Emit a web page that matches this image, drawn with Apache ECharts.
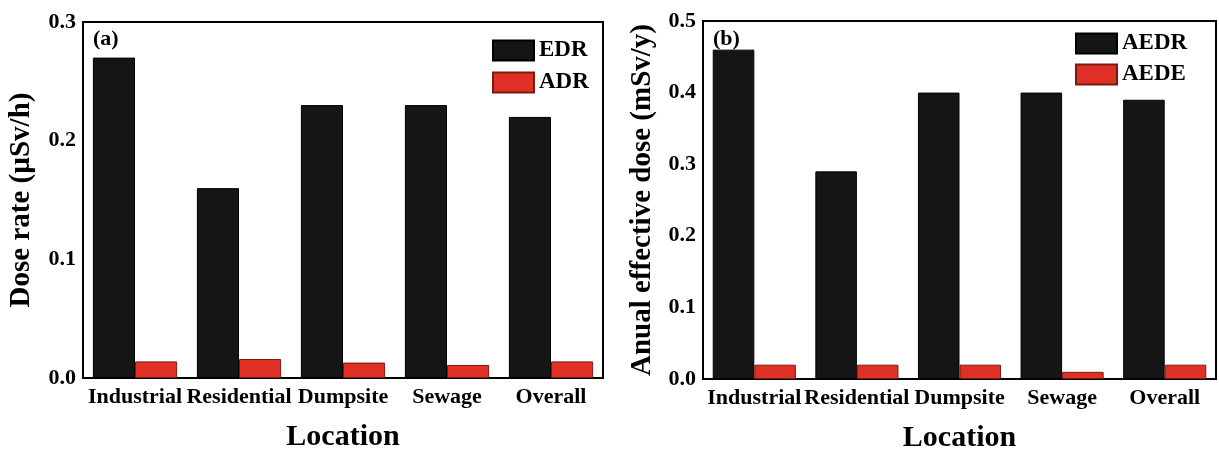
<!DOCTYPE html>
<html>
<head>
<meta charset="utf-8">
<script src="https://cdn.jsdelivr.net/npm/echarts@6/dist/echarts.min.js"></script>
<style>
html,body{margin:0;padding:0;background:#fff;}
#chart{width:1219px;height:453px;}
</style>
</head>
<body>
<div id="chart"></div>
<script>
const categories = ['Industrial', 'Residential', 'Dumpsite', 'Sewage', 'Overall'];
const edr  = [0.27, 0.16, 0.23, 0.23, 0.22];
const adr  = [0.014, 0.016, 0.013, 0.011, 0.014];
const aedr = [0.46, 0.29, 0.40, 0.40, 0.39];
const aede = [0.02, 0.02, 0.02, 0.01, 0.02];
const yTicksA = [0.0, 0.1, 0.2, 0.3];
const yTicksB = [0.0, 0.1, 0.2, 0.3, 0.4, 0.5];

const FONT = 'Liberation Serif';
const BLACK = '#151515';
const RED = '#de3024';

function xAxis(gi) {
  return {
    type: 'category', gridIndex: gi, data: categories,
    name: 'Location', nameLocation: 'middle', nameGap: 44,
    nameTextStyle: {fontFamily: FONT, fontWeight: 'bold', fontSize: 30, color: '#000'},
    axisLine: {lineStyle: {color: '#000', width: 2}},
    axisTick: {show: false},
    axisLabel: {fontFamily: FONT, fontWeight: 'bold', fontSize: 22, color: '#000', margin: 8, interval: 0}
  };
}
function yAxis(gi, ticks, name, gap) {
  return {
    type: 'value', gridIndex: gi, min: ticks[0], max: ticks[ticks.length - 1], interval: 0.1,
    name: name, nameLocation: 'middle', nameGap: gap,
    nameTextStyle: {fontFamily: FONT, fontWeight: 'bold', fontSize: 29, color: '#000'},
    axisLine: {show: true, lineStyle: {color: '#000', width: 2}},
    axisTick: {show: false},
    splitLine: {show: false},
    axisLabel: {fontFamily: FONT, fontWeight: 'bold', fontSize: 22, color: '#000', margin: 7,
      formatter: v => v.toFixed(1)}
  };
}
function barSeries(name, data, gi, color, border) {
  return {
    type: 'bar', name: name, data: data, xAxisIndex: gi, yAxisIndex: gi,
    barGap: '0%', barCategoryGap: '19%',
    itemStyle: {color: color, borderColor: border, borderWidth: 1},
    emphasis: {disabled: true}
  };
}

const chart = echarts.init(document.getElementById('chart'));
chart.setOption({
  animation: false,
  backgroundColor: '#fff',
  textStyle: {fontFamily: FONT},
  grid: [
    {left: 83, top: 22, width: 520, height: 356, show: true, borderColor: '#000', borderWidth: 2,
     backgroundColor: 'transparent', containLabel: false, outerBoundsMode: 'none'},
    {left: 703, top: 21, width: 513, height: 358, show: true, borderColor: '#000', borderWidth: 2,
     backgroundColor: 'transparent', containLabel: false, outerBoundsMode: 'none'}
  ],
  title: [
    {text: '(a)', left: 88, top: 23, textStyle: {fontFamily: FONT, fontWeight: 'bold', fontSize: 22, color: '#000'}},
    {text: '(b)', left: 708, top: 23, textStyle: {fontFamily: FONT, fontWeight: 'bold', fontSize: 22, color: '#000'}}
  ],
  legend: [
    {data: ['EDR', 'ADR'], orient: 'vertical', left: 487, top: 34, itemWidth: 41, itemHeight: 20, itemGap: 9,
     icon: 'rect', textStyle: {fontFamily: FONT, fontWeight: 'bold', fontSize: 23, color: '#000'}},
    {data: ['AEDR', 'AEDE'], orient: 'vertical', left: 1070, top: 27, itemWidth: 41, itemHeight: 20, itemGap: 8,
     icon: 'rect', textStyle: {fontFamily: FONT, fontWeight: 'bold', fontSize: 23, color: '#000'}}
  ],
  xAxis: [xAxis(0), xAxis(1)],
  yAxis: [yAxis(0, yTicksA, 'Dose rate (µSv/h)', 47), yAxis(1, yTicksB, 'Anual effective dose (mSv/y)', 46)],
  series: [
    barSeries('EDR', edr, 0, BLACK, '#000'),
    barSeries('ADR', adr, 0, RED, '#7a1a10'),
    barSeries('AEDR', aedr, 1, BLACK, '#000'),
    barSeries('AEDE', aede, 1, RED, '#7a1a10')
  ]
});
</script>
</body>
</html>
